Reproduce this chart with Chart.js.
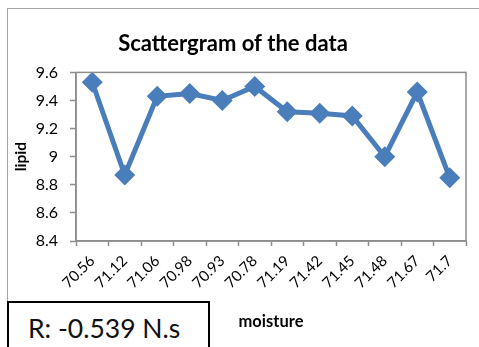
<!DOCTYPE html>
<html>
<head>
<meta charset="utf-8">
<script src="https://cdn.jsdelivr.net/npm/chart.js@4.4.1/dist/chart.umd.min.js"></script>
<style>
  body { margin: 0; background: #fff; width: 479px; height: 347px; overflow: hidden; position: relative; }
  #frame { position: absolute; left: 7px; top: 8px; width: 480px; height: 360px; border: 1px solid #a6a6a6; box-sizing: border-box; }
  #wrap { position: absolute; left: 0; top: 0; width: 479px; height: 347px; }
  #rbox { position: absolute; left: 7px; top: 301px; width: 203px; height: 60px; border: 2px solid #000; box-sizing: border-box; background: #fff;
          font-family: Lato, "Open Sans", sans-serif; font-size: 26.5px; color: #111; padding: 9px 0 0 19px; }
</style>
</head>
<body>
<div id="frame"></div>
<div id="wrap"><canvas id="lipidChart" width="479" height="347"></canvas></div>
<div id="rbox">R: -0.539 N.s</div>
<script>
// moisture readings (x categories) and the matching lipid values
var moisture = ["70.56", "71.12", "71.06", "70.98", "70.93", "70.78", "71.19", "71.42", "71.45", "71.48", "71.67", "71.7"];
var lipid = [9.53, 8.87, 9.43, 9.45, 9.40, 9.50, 9.32, 9.31, 9.29, 9.00, 9.46, 8.85];
var yTicks = ["8.4", "8.6", "8.8", "9", "9.2", "9.4", "9.6"];

var axisGrey = "#8c8c8c";
var font = "Lato, 'Open Sans', sans-serif";

// draws the top and right edges of the plot area
var plotBox = {
  id: "plotBox",
  afterDraw: function (chart) {
    var a = chart.chartArea, c = chart.ctx;
    c.save();
    c.strokeStyle = axisGrey;
    c.lineWidth = 1.5;
    c.strokeRect(a.left, a.top, a.right - a.left, a.bottom - a.top);
    c.restore();
  }
};

var ctx = document.getElementById("lipidChart").getContext("2d");
var lipidChart = new Chart(ctx, {
  type: "line",
  data: {
    labels: moisture,
    datasets: [
      {
        label: "lipid",
        data: lipid,
        borderColor: "#4a7ebb",
        backgroundColor: "#4a7ebb",
        borderWidth: 5,
        tension: 0,
        pointStyle: "rectRot",
        pointRadius: 10.5,
        pointHoverRadius: 10.5,
        pointBorderWidth: 0,
      },
    ],
  },
  options: {
    responsive: false,
    animation: false,
    layout: { padding: { left: 0, right: 13, top: 0, bottom: 0 } },
    plugins: {
      legend: { display: false },
      tooltip: { enabled: false },
      title: {
        display: true,
        text: "Scattergram of the data",
        color: "#000",
        font: { family: font, size: 22, weight: "bold" },
        padding: { top: 31, bottom: 15 },
      },
    },
    scales: {
      x: {
        offset: true,
        grid: { offset: true, drawOnChartArea: false, color: axisGrey, tickLength: 5, tickWidth: 1.5 },
        border: { color: axisGrey, width: 1.5 },
        ticks: { color: "#000", font: { family: font, size: 15 }, minRotation: 45, maxRotation: 45, padding: 6 },
        title: { display: true, text: "moisture", color: "#000", font: { family: font, size: 16.5, weight: "bold" }, padding: { top: 0, bottom: 15 } },
        afterFit: function (scale) { scale.height = 106; },
      },
      y: {
        min: 8.4,
        max: 9.6,
        ticks: {
          stepSize: 0.2,
          color: "#000",
          font: { family: font, size: 16 },
          padding: 12,
          callback: function (v, i) { return yTicks[i]; },
        },
        grid: { drawOnChartArea: false, color: axisGrey, tickLength: 6, tickWidth: 1.5 },
        border: { color: axisGrey, width: 1.5 },
        title: { display: true, text: "lipid", color: "#000", font: { family: font, size: 15.5, weight: "bold" }, padding: { top: 12, bottom: 0 } },
        afterFit: function (scale) { scale.width = 76; },
      },
    },
  },
  plugins: [plotBox],
});
</script>
</body>
</html>
